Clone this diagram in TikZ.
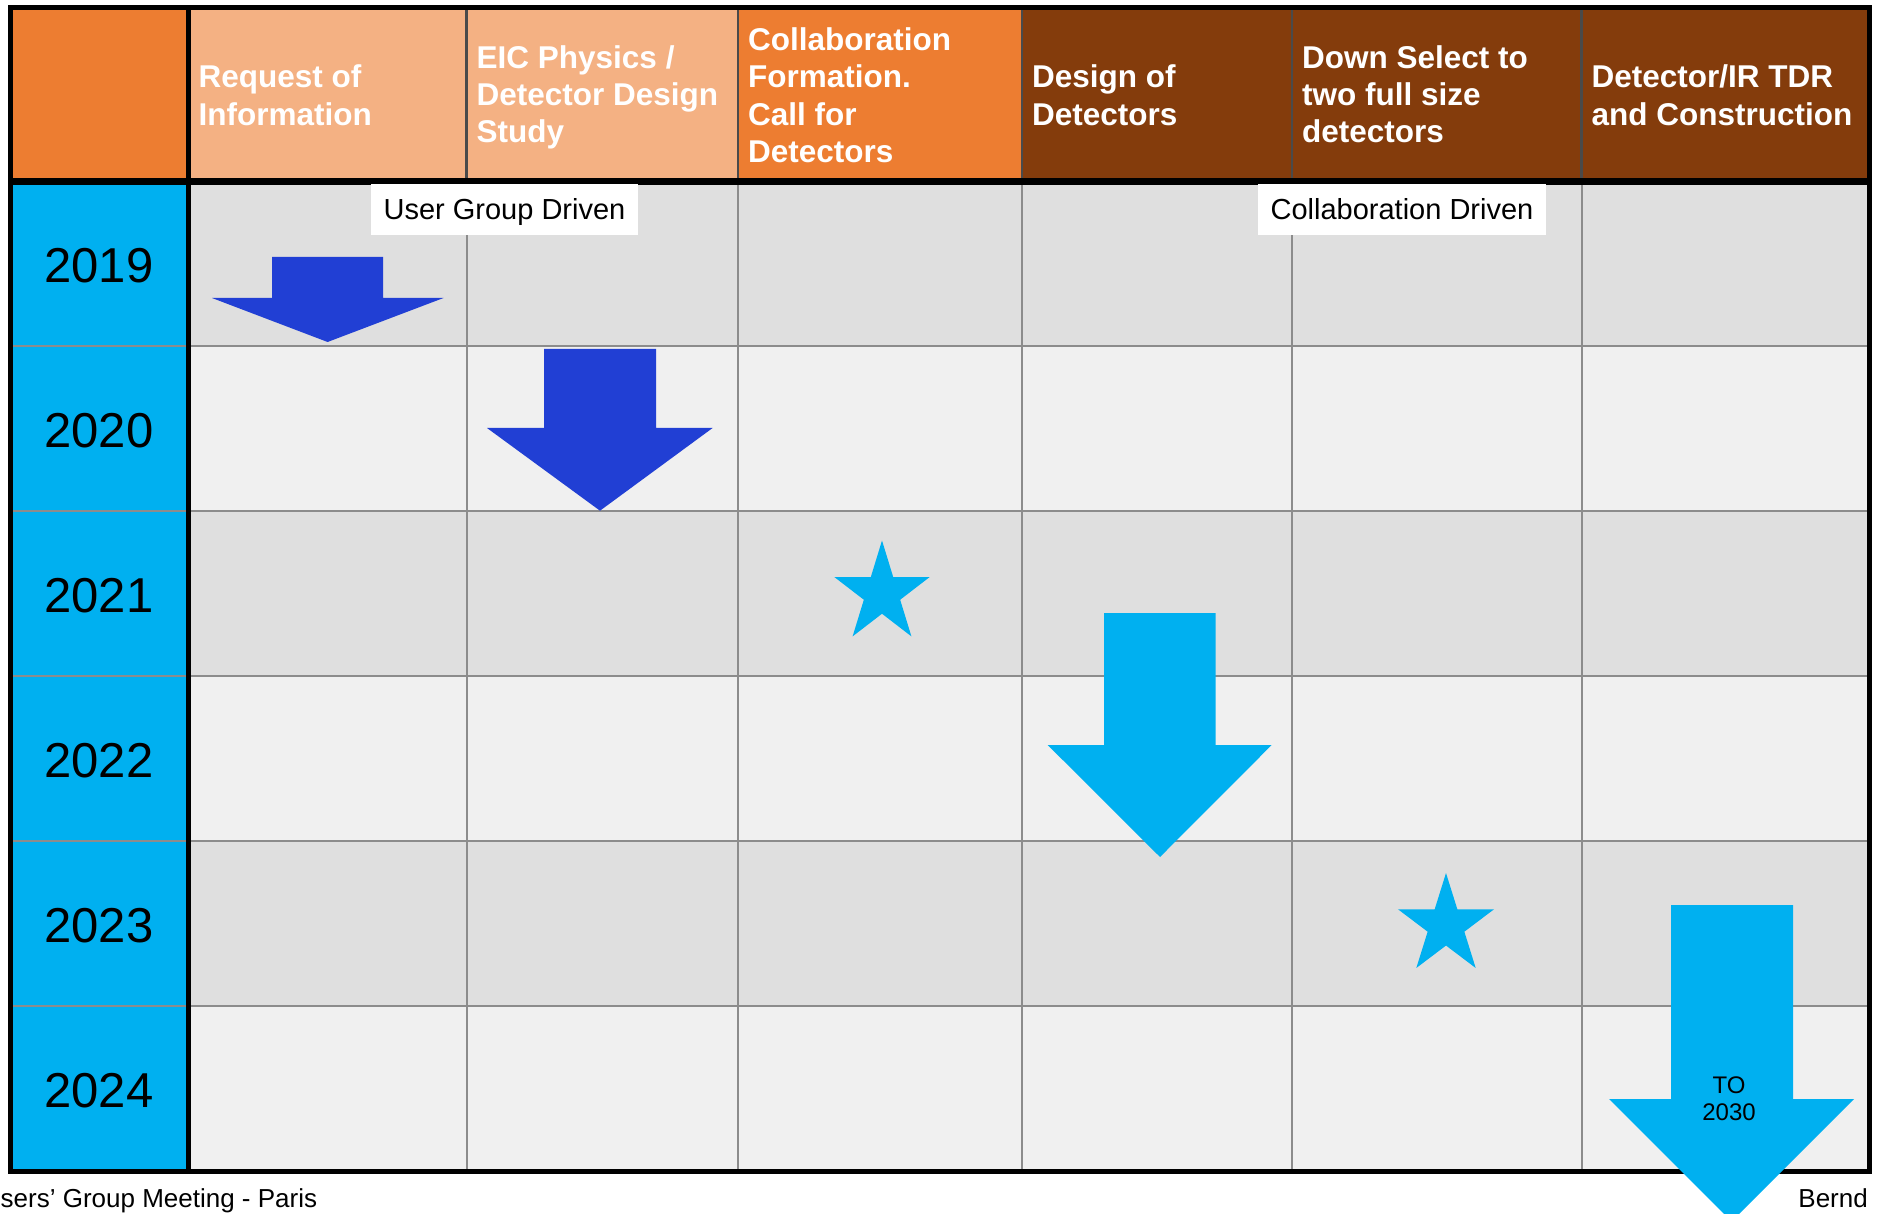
\documentclass[tikz,border=0pt]{standalone}
\usepackage{fontspec}
\setmainfont{Liberation Sans}
\definecolor{hdrorange}{HTML}{ED7D31}
\definecolor{hdrlight}{HTML}{F4B183}
\definecolor{hdrbrown}{HTML}{843C0C}
\definecolor{yearcyan}{HTML}{00B0F0}
\definecolor{rowdark}{HTML}{DFDFDF}
\definecolor{rowlight}{HTML}{F0F0F0}
\definecolor{gridgray}{HTML}{8C8C8C}
\definecolor{hdrline}{HTML}{4A4A4A}
\definecolor{arrowblue}{RGB}{33,63,212}
\begin{document}
\begin{tikzpicture}[x=1pt,y=-1pt,
  hdr/.style={anchor=base west, inner sep=0pt, text=white, font=\fontsize{31.5}{37.3}\selectfont\bfseries},
  yr/.style={inner sep=0pt, text height=35pt, text depth=0pt, font=\fontsize{49}{56}\selectfont},
  tag/.style={fill=white, inner sep=0pt, minimum height=50.5pt, text height=20.8pt, text depth=0pt, font=\fontsize{29}{34}\selectfont},
  gridline/.style={draw=gridgray, line width=2pt},
  hdrsep/.style={draw=hdrline, line width=2.5pt},
  frameline/.style={draw=black, line width=5pt},
  foot/.style={anchor=base, inner sep=0pt, font=\fontsize{26}{30}\selectfont},
  pics/fivestar/.style={code={\fill[yearcyan] (0,-1) -- (0.2245,-0.309) -- (0.9511,-0.309) -- (0.3633,0.118) -- (0.5878,0.809) -- (0,0.382) -- (-0.5878,0.809) -- (-0.3633,0.118) -- (-0.9511,-0.309) -- (-0.2245,-0.309) -- cycle;}},
]
\useasboundingbox (0,0) rectangle (1877,1214);
\begin{scope}
\clip (0,0) rectangle (1877,1214);
% header fills
\fill[hdrorange] (10.5,7.5) rectangle (188.5,181.5);
\fill[hdrlight] (188.5,7.5) rectangle (738,181.5);
\fill[hdrorange] (738,7.5) rectangle (1022,181.5);
\fill[hdrbrown] (1022,7.5) rectangle (1869.5,181.5);
% year column
\fill[yearcyan] (10.5,181.5) rectangle (188.5,1171);
% body rows
\foreach \i/\rc in {0/rowdark,1/rowlight,2/rowdark,3/rowlight,4/rowdark,5/rowlight}
  \fill[\rc] (188.5,{181.5+164.92*\i}) rectangle (1869.5,{181.5+164.92*(\i+1)});
% grid
\foreach \i in {1,...,5}
  \draw[gridline] (10.5,{181.5+164.92*\i}) -- (1869.5,{181.5+164.92*\i});
\foreach \xx in {466.5,738,1022,1292,1581.5} {
  \draw[gridline] (\xx,181.5) -- (\xx,1171);
  \draw[hdrsep] (\xx,7.5) -- (\xx,181.5);
}
% frame
\draw[frameline] (10.5,7.5) rectangle (1869.5,1171);
\draw[black, line width=7pt] (10.5,181.5) -- (1869.5,181.5);
\draw[frameline] (188.5,7.5) -- (188.5,1171);
% tags
\node[tag, minimum width=267pt] (ugd) at (504.5,209.5) {User Group Driven};
\node[tag, minimum width=288pt] (cd) at (1402,209.5) {Collaboration Driven};
% arrows
\fill[arrowblue] (272,257) -- (383,257) -- (383,298) -- (443.5,298) -- (327.6,342) -- (212,298) -- (272,298) -- cycle;
\fill[arrowblue] (544,349) -- (656,349) -- (656,428) -- (712.6,428) -- (600,510.7) -- (487,428) -- (544,428) -- cycle;
\fill[yearcyan] (1104,613) -- (1215.7,613) -- (1215.7,745) -- (1271.7,745) -- (1160,857) -- (1047.7,745) -- (1104,745) -- cycle;
\fill[yearcyan] (1671,905) -- (1793,905) -- (1793,1099) -- (1854,1099) -- (1731.5,1221.5) -- (1609,1099) -- (1671,1099) -- cycle;
% stars
\pic[xscale=50, yscale=53] at (882,593.5) {fivestar};
\pic[xscale=50.5, yscale=52.5] at (1446,925.5) {fivestar};
% header texts
\node[hdr] (h2) at (198.5,88) {\begin{tabular}[t]{@{}l@{}}Request of\\Information\end{tabular}};
\node[hdr] (h3) at (476.5,68.3) {\begin{tabular}[t]{@{}l@{}}EIC Physics /\\Detector Design\\Study\end{tabular}};
\node[hdr] (h4) at (748,50.7) {\begin{tabular}[t]{@{}l@{}}Collaboration\\Formation.\\Call for\\Detectors\end{tabular}};
\node[hdr] (h5) at (1032,88) {\begin{tabular}[t]{@{}l@{}}Design of\\Detectors\end{tabular}};
\node[hdr] (h6) at (1302,68.3) {\begin{tabular}[t]{@{}l@{}}Down Select to\\two full size\\detectors\end{tabular}};
\node[hdr] (h7) at (1591.5,88) {\begin{tabular}[t]{@{}l@{}}Detector/IR TDR\\and Construction\end{tabular}};
% years
\node[yr] (y2019) at (99,265.5) {2019};
\node[yr] (y2020) at (99,430.4) {2020};
\node[yr] (y2021) at (99,595.3) {2021};
\node[yr] (y2022) at (99,760.2) {2022};
\node[yr] (y2023) at (99,925.1) {2023};
\node[yr] (y2024) at (99,1090.1) {2024};
% arrow label
\node[anchor=base, inner sep=0pt, font=\fontsize{24}{27}\selectfont] (to2030) at (1729,1093) {\begin{tabular}[t]{@{}c@{}}TO\\2030\end{tabular}};
\end{scope}
% footer
\node[foot, anchor=base west] (venue) at (0.5,1207) {sers’ Group Meeting - Paris};
\node[foot, anchor=base east] (author) at (1868,1207) {Bernd};
\end{tikzpicture}
\end{document}
